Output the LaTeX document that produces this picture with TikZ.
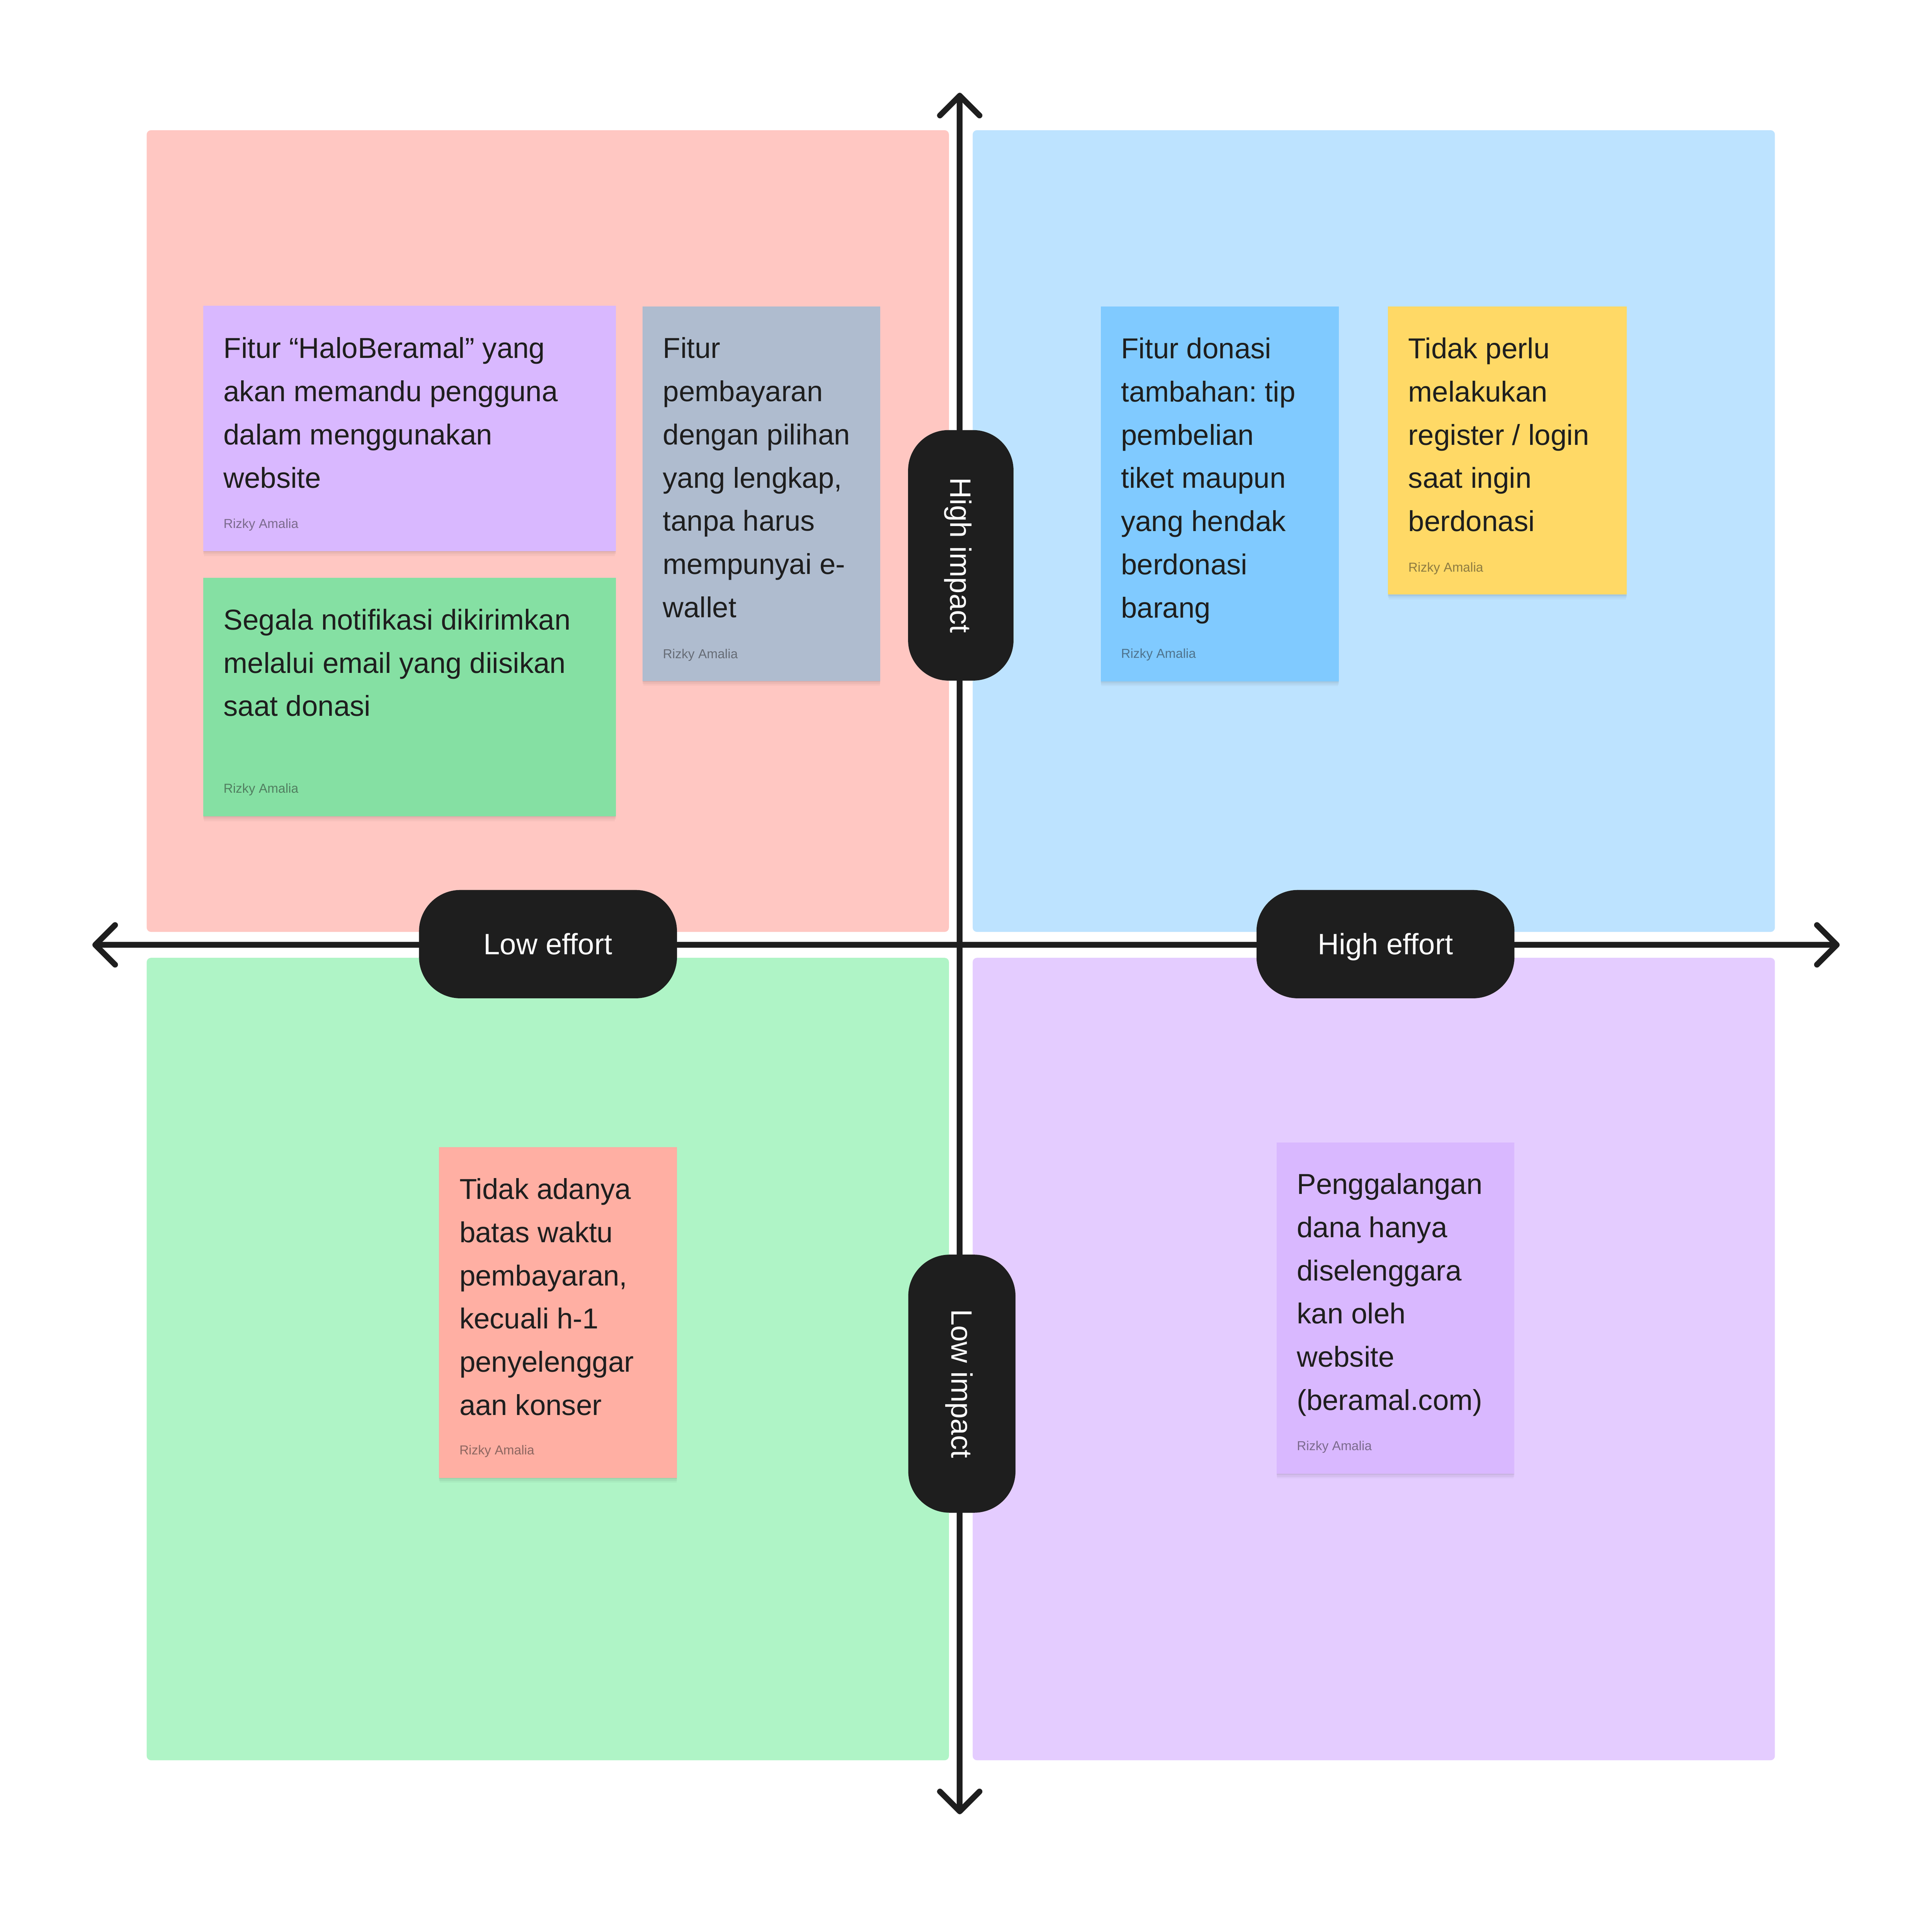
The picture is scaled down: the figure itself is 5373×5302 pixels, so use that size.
\documentclass[tikz,border=0pt]{standalone}
\usepackage{fontspec}
\setmainfont{Liberation Sans}
\usetikzlibrary{arrows.meta,fit,shadows}
\frenchspacing
\definecolor{ink}{HTML}{1E1E1E}
\definecolor{qPink}{HTML}{FFC7C2}
\definecolor{qBlue}{HTML}{BDE3FF}
\definecolor{qGreen}{HTML}{AFF4C6}
\definecolor{qViolet}{HTML}{E4CCFF}
\definecolor{stViolet}{HTML}{D9B8FF}
\definecolor{stGrey}{HTML}{AFBCCF}
\definecolor{stGreen}{HTML}{85E0A3}
\definecolor{stBlue}{HTML}{80CAFF}
\definecolor{stYellow}{HTML}{FFD966}
\definecolor{stRed}{HTML}{FFAFA3}
\newcommand\stk[1]{\parbox[t]{14cm}{\raggedright\frenchspacing\fontsize{22.76pt}{34.14pt}\selectfont #1}}
\begin{document}
\begin{tikzpicture}[x=0.01cm,y=-0.01cm,
  quad/.style={fill=#1, draw=none, inner sep=0, rounded corners=0.12cm},
  axis/.style={draw=ink, line width=0.16cm,
    {Straight Barb[length=0.55cm,width=1.1cm,round]}-{Straight Barb[length=0.55cm,width=1.1cm,round]}},
  pill/.style={fill=ink, text=white, inner sep=0, text height=0.58cm, text depth=0cm,
    font=\fontsize{23.3pt}{28pt}\selectfont},
  sticky/.style={fill=#1, draw=none, inner sep=0,
    drop shadow={shadow xshift=0pt,shadow yshift=-1pt,opacity=.05,fill=black},
    drop shadow={shadow xshift=0pt,shadow yshift=-2.5pt,opacity=.04,fill=black},
    drop shadow={shadow xshift=0pt,shadow yshift=-4.5pt,shadow scale=0.995,opacity=.03,fill=black}},
  stext/.style={anchor=base west, inner sep=0, text=ink},
  sauthor/.style={anchor=base west, inner sep=0, text=ink, text opacity=0.5,
    font=\fontsize{10.25pt}{12pt}\selectfont}]
\useasboundingbox (0,0) rectangle (5373,5302);
\fill[white] (0,0) rectangle (5373,5302);

% quadrants
\node[quad=qPink, fit={(408,362) (2639,2591)}] (q1) {};
\node[quad=qBlue, fit={(2705,362) (4936,2591)}] (q2) {};
\node[quad=qGreen, fit={(408,2663) (2639,4894)}] (q3) {};
\node[quad=qViolet, fit={(2705,2663) (4936,4894)}] (q4) {};

% axes
\coordinate (W) at (257,2627);
\coordinate (E) at (5116,2627);
\coordinate (N) at (2669,258);
\coordinate (S) at (2669,5044);
\draw[axis] (W) -- (E);
\draw[axis] (N) -- (S);

% axis labels
\node[pill, minimum width=7.17cm, minimum height=3.01cm, rounded corners=1.15cm] (le) at (1524,2625) {Low effort};
\node[pill, minimum width=7.17cm, minimum height=3.01cm, rounded corners=1.15cm] (he) at (3853,2625) {High effort};
\node[pill, minimum width=6.96cm, minimum height=2.93cm, rounded corners=1.12cm, rotate=-90] (hi) at (2672,1544) {High impact};
\node[pill, minimum width=7.17cm, minimum height=2.98cm, rounded corners=1.15cm, rotate=-90] (li) at (2675,3847) {Low impact};

% sticky notes
\node[sticky=stViolet, fit={(565,850) (1713,1532)}] (s1) {};
\node[stext] (s1t) at (621,996) {\stk{Fitur “HaloBeramal” yang\\akan memandu pengguna\\dalam menggunakan\\website}};
\node[sauthor] (s1a) at (621,1468) {Rizky Amalia};

\node[sticky=stGrey, fit={(1787,852) (2448,1893)}] (s2) {};
\node[stext] (s2t) at (1843,996) {\stk{Fitur\\pembayaran\\dengan pilihan\\yang lengkap,\\tanpa harus\\mempunyai e-\\wallet}};
\node[sauthor] (s2a) at (1843,1831) {Rizky Amalia};

\node[sticky=stGreen, fit={(565,1606) (1713,2269)}] (s3) {};
\node[stext] (s3t) at (621,1751) {\stk{Segala notifikasi dikirimkan\\melalui email yang diisikan\\saat donasi}};
\node[sauthor] (s3a) at (621,2205) {Rizky Amalia};

\node[sticky=stBlue, fit={(3061,852) (3723,1894)}] (s4) {};
\node[stext] (s4t) at (3117,997) {\stk{Fitur donasi\\tambahan: tip\\pembelian\\tiket maupun\\yang hendak\\berdonasi\\barang}};
\node[sauthor] (s4a) at (3117,1829) {Rizky Amalia};

\node[sticky=stYellow, fit={(3860,852) (4524,1653)}] (s5) {};
\node[stext] (s5t) at (3916,997) {\stk{Tidak perlu\\melakukan\\register / login\\saat ingin\\berdonasi}};
\node[sauthor] (s5a) at (3916,1590) {Rizky Amalia};

\node[sticky=stRed, fit={(1221,3189) (1883,4109)}] (s6) {};
\node[stext] (s6t) at (1277,3334) {\stk{Tidak adanya\\batas waktu\\pembayaran,\\kecuali h-1\\penyelenggar\\aan konser}};
\node[sauthor] (s6a) at (1277,4044) {Rizky Amalia};

\node[sticky=stViolet, fit={(3550,3176) (4211,4097)}] (s7) {};
\node[stext] (s7t) at (3606,3320) {\stk{Penggalangan\\dana hanya\\diselenggara\\kan oleh\\website\\(beramal.com)}};
\node[sauthor] (s7a) at (3606,4032) {Rizky Amalia};
\end{tikzpicture}
\end{document}
